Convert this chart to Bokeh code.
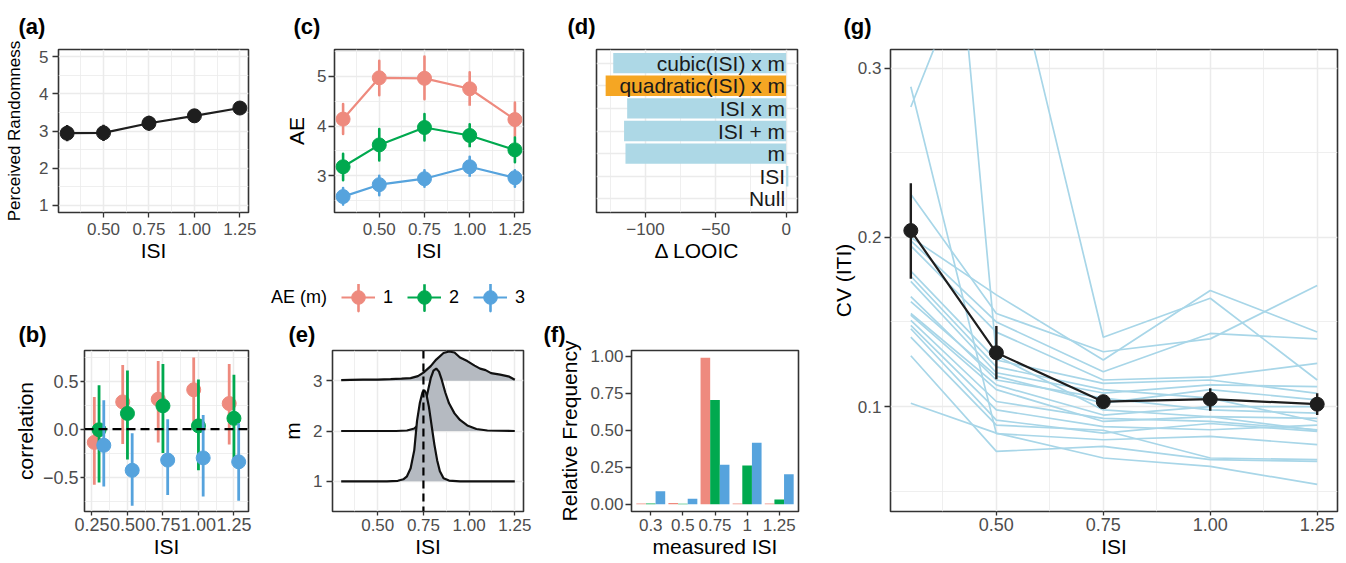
from bokeh.plotting import figure
from bokeh.models import (ColumnDataSource, FixedTicker, Range1d, FactorRange, Span,
                          Legend, LegendItem, NumeralTickFormatter, Spacer)
from bokeh.layouts import row, column
from bokeh.embed import file_html
from bokeh.resources import INLINE
from bokeh.transform import dodge
from bokeh.core.properties import value

FONT = "Liberation Sans"
M_LABELS = ["1", "2", "3"]
M_COLORS = ["#EE8A7E", "#00A94F", "#56A3DD"]

# ---------------- data ----------------
ISI = [0.3, 0.5, 0.75, 1.0, 1.25]
ISI_TICKS = [0.5, 0.75, 1.0, 1.25]
ISI_MINOR = [0.375, 0.625, 0.875, 1.125]

# (a) perceived randomness
rand_mean = [2.94, 2.95, 3.21, 3.41, 3.62]
rand_lo = [2.72, 2.73, 3.01, 3.23, 3.47]
rand_hi = [3.16, 3.17, 3.41, 3.59, 3.77]

# (c) AE by ISI for m = 1, 2, 3
ae_mean = [[4.14, 4.97, 4.96, 4.75, 4.13],
           [3.18, 3.62, 3.97, 3.81, 3.52],
           [2.58, 2.82, 2.94, 3.18, 2.96]]
ae_lo = [[3.84, 4.62, 4.54, 4.36, 3.79],
         [2.91, 3.31, 3.71, 3.54, 3.27],
         [2.42, 2.61, 2.78, 2.95, 2.78]]
ae_hi = [[4.44, 5.31, 5.40, 5.13, 4.47],
         [3.44, 3.94, 4.24, 4.07, 3.77],
         [2.75, 3.00, 3.11, 3.41, 3.11]]

# (b) correlation by ISI for m = 1, 2, 3
cor_mean = [[-0.137, 0.284, 0.312, 0.410, 0.267],
            [-0.006, 0.164, 0.243, 0.035, 0.113],
            [-0.167, -0.427, -0.321, -0.298, -0.339]]
cor_lo = [[-0.578, -0.154, -0.137, 0.080, -0.160],
          [-0.554, -0.314, -0.246, -0.427, -0.298],
          [-0.595, -0.794, -0.684, -0.698, -0.742]]
cor_hi = [[0.336, 0.667, 0.710, 0.746, 0.678],
          [0.456, 0.610, 0.678, 0.517, 0.565],
          [0.302, -0.041, 0.103, 0.148, 0.062]]
B_DODGE = 0.1

# (d) model comparison
models = ["Null", "ISI", "m", "ISI + m", "ISI x m", "quadratic(ISI) x m", "cubic(ISI) x m"]
d_looic = [0.0, 1.6, -114.2, -115.2, -113.0, -128.3, -122.9]
best_model = "quadratic(ISI) x m"

# (e) ridgeline densities (height in m units)
dens_x = [
    [0.30, 0.55, 0.61, 0.64, 0.66, 0.68, 0.70, 0.715, 0.73, 0.745, 0.755, 0.765,
     0.78, 0.795, 0.81, 0.825, 0.84, 0.86, 0.89, 0.95, 1.25],
    [0.30, 0.60, 0.66, 0.70, 0.73, 0.75, 0.77, 0.79, 0.805, 0.82, 0.835, 0.85,
     0.87, 0.89, 0.92, 0.95, 0.99, 1.04, 1.10, 1.25],
    [0.30, 0.35, 0.42, 0.50, 0.57, 0.63, 0.68, 0.72, 0.75, 0.79, 0.82, 0.86,
     0.89, 0.92, 0.95, 0.99, 1.03, 1.06, 1.09, 1.12, 1.17, 1.22, 1.25],
]
dens_h = [
    [0.0, 0.0, 0.01, 0.04, 0.10, 0.26, 0.62, 1.20, 1.55, 1.77, 1.81, 1.75,
     1.48, 1.10, 0.73, 0.42, 0.20, 0.06, 0.015, 0.0, 0.0],
    [0.0, 0.0, 0.01, 0.05, 0.15, 0.35, 0.72, 1.05, 1.20, 1.24, 1.18, 1.02,
     0.76, 0.55, 0.35, 0.22, 0.11, 0.04, 0.01, 0.0],
    [0.01, 0.015, 0.02, 0.02, 0.03, 0.04, 0.05, 0.09, 0.16, 0.29, 0.42, 0.55,
     0.58, 0.56, 0.46, 0.39, 0.30, 0.24, 0.21, 0.15, 0.12, 0.08, 0.02],
]
target_isi = 0.75

# (f) relative frequency of measured ISI
meas_cats = ["0.3", "0.5", "0.75", "1", "1.25"]
freq = [[0.004, 0.008, 0.990, 0.004, 0.004],
        [0.004, 0.003, 0.704, 0.261, 0.031],
        [0.088, 0.037, 0.266, 0.416, 0.203]]

# (g) CV of ITI per subject and mean
cv_subjects = [
    [0.686, 0.130, 0.098, 0.094, 0.086],
    [0.277, 0.404, 0.141, 0.164, 0.1157],
    [0.289, 0.084, 0.0804, 0.0824, 0.0775],
    [0.2255, 0.155, 0.1324, 0.140, 0.1716],
    [0.200, 0.166, 0.1275, 0.1686, 0.1441],
    [0.198, 0.150, 0.1206, 0.1432, 0.140],
    [0.195, 0.144, 0.1157, 0.1176, 0.1255],
    [0.180, 0.1275, 0.1137, 0.1157, 0.1078],
    [0.177, 0.1235, 0.110, 0.105, 0.0912],
    [0.174, 0.120, 0.108, 0.1128, 0.1118],
    [0.165, 0.1157, 0.105, 0.098, 0.0961],
    [0.162, 0.118, 0.102, 0.110, 0.104],
    [0.155, 0.1128, 0.095, 0.100, 0.100],
    [0.154, 0.110, 0.0912, 0.0941, 0.093],
    [0.151, 0.103, 0.093, 0.0912, 0.0863],
    [0.148, 0.098, 0.0882, 0.0863, 0.089],
    [0.146, 0.092, 0.0843, 0.090, 0.0853],
    [0.141, 0.089, 0.086, 0.0696, 0.0686],
    [0.130, 0.0735, 0.0765, 0.0686, 0.0676],
    [0.102, 0.0843, 0.0696, 0.0647, 0.054],
]
cv_mean = [0.204, 0.1318, 0.1029, 0.1044, 0.1014]
cv_lo = [0.1755, 0.1161, 0.0990, 0.0975, 0.0950]
cv_hi = [0.2320, 0.1476, 0.1068, 0.1108, 0.1079]


# ---------------- styling helpers ----------------
def base_fig(width, height, x_range, y_range, borders, tag, tag_offset, tag_standoff):
    l, r, t, b = borders
    p = figure(width=width, height=height, x_range=x_range, y_range=y_range,
               output_backend="svg", toolbar_location=None, tools="",
               min_border_left=l, min_border_right=r, min_border_top=t, min_border_bottom=b,
               title=tag)
    p.title.text_font = FONT
    p.title.text_font_size = "22px"
    p.title.text_font_style = "bold"
    p.title.text_color = "black"
    p.title.align = "left"
    p.title.offset = tag_offset
    p.title.standoff = tag_standoff
    p.outline_line_color = "#333333"
    p.outline_line_width = 1.6
    p.background_fill_color = "white"
    p.border_fill_color = "white"
    for ax in p.axis:
        ax.axis_line_color = None
        ax.major_tick_line_color = "#333333"
        ax.major_tick_line_width = 1.3
        ax.major_tick_in = 0
        ax.major_tick_out = 5
        ax.minor_tick_line_color = None
        ax.major_label_text_font = FONT
        ax.major_label_text_font_size = "17px"
        ax.major_label_text_color = "#4D4D4D"
        ax.axis_label_text_font = FONT
        ax.axis_label_text_font_size = "21px"
        ax.axis_label_text_font_style = "normal"
        ax.axis_label_text_color = "black"
    for g in p.grid:
        g.grid_line_color = "#EBEBEB"
        g.grid_line_width = 1.5
        g.minor_grid_line_color = "#EBEBEB"
        g.minor_grid_line_width = 0.8
    return p


def set_x(p, label, tick_out, label_standoff, axis_standoff, size=None):
    p.xaxis.axis_label = label
    p.xaxis.major_tick_out = tick_out
    p.xaxis.major_label_standoff = label_standoff
    p.xaxis.axis_label_standoff = axis_standoff
    if size:
        p.xaxis.major_label_text_font_size = size


def set_y(p, label, tick_out, label_standoff, axis_standoff, size="21px", tick_size=None):
    p.yaxis.axis_label = label
    p.yaxis.major_tick_out = tick_out
    p.yaxis.major_label_standoff = label_standoff
    p.yaxis.axis_label_standoff = axis_standoff
    p.yaxis.axis_label_text_font_size = size
    if tick_size:
        p.yaxis.major_label_text_font_size = tick_size


TOP_H, LEG_H, BOT_H = 272, 43, 248
TOP_B = (48, 60)
BOT_B = (33, 52)
TOP_TAG, BOT_TAG = 22, 8
BLACK = "#1E1E1E"

# ---------------- (a) ----------------
pa = base_fig(270, TOP_H, Range1d(0.2525, 1.2975), Range1d(0.8, 5.2),
              (58, 22) + TOP_B, "(a)", -40, TOP_TAG)
pa.xaxis.ticker = FixedTicker(ticks=ISI_TICKS, minor_ticks=ISI_MINOR)
pa.xaxis.formatter = NumeralTickFormatter(format="0.00")
pa.yaxis.ticker = FixedTicker(ticks=[1, 2, 3, 4, 5], minor_ticks=[1.5, 2.5, 3.5, 4.5])
set_x(pa, "ISI", 5, 5, 1)
set_y(pa, "Perceived Randomness", 6, 4, 12, size="17px")
src_a = ColumnDataSource(dict(isi=ISI, m=rand_mean, lo=rand_lo, hi=rand_hi))
pa.line("isi", "m", source=src_a, line_color=BLACK, line_width=2.2)
pa.segment(x0="isi", y0="lo", x1="isi", y1="hi", source=src_a, line_color=BLACK, line_width=2.6)
pa.scatter("isi", "m", source=src_a, size=14, color=BLACK)

# ---------------- (c) ----------------
pc = base_fig(278, TOP_H, Range1d(0.2525, 1.2975), Range1d(2.26, 5.54),
              (64, 25) + TOP_B, "(c)", -41, TOP_TAG)
pc.xaxis.ticker = FixedTicker(ticks=ISI_TICKS, minor_ticks=ISI_MINOR)
pc.xaxis.formatter = NumeralTickFormatter(format="0.00")
pc.yaxis.ticker = FixedTicker(ticks=[3, 4, 5], minor_ticks=[2.5, 3.5, 4.5, 5.5])
set_x(pc, "ISI", 5, 5, 1)
set_y(pc, "AE", 6, 2, 6)

# legend strip: its own small plot holding the same AE series (kept out of its view)
pleg = figure(width=330, height=LEG_H, x_range=Range1d(0, 1), y_range=Range1d(0, 1),
              output_backend="svg", toolbar_location=None, tools="",
              x_axis_location=None, y_axis_location=None,
              min_border_left=0, min_border_right=0, min_border_top=0, min_border_bottom=0)
pleg.outline_line_color = None
pleg.grid.visible = False
pleg.background_fill_color = "white"
pleg.border_fill_color = "white"

items = [LegendItem(label="AE (m)", renderers=[])]
for k in range(3):
    src = ColumnDataSource(dict(isi=ISI, m=ae_mean[k],
                                mid=[(a + b) / 2 for a, b in zip(ae_lo[k], ae_hi[k])],
                                span=[b - a for a, b in zip(ae_lo[k], ae_hi[k])]))
    rs = []
    for p in (pc, pleg):
        ln = p.line("isi", "m", source=src, line_color=M_COLORS[k], line_width=2.2)
        eb = p.ellipse(x="isi", y="mid", width=1e-5, height="span", source=src,
                       fill_color=None, line_color=M_COLORS[k], line_width=2.6)
        pt = p.scatter("isi", "m", source=src, size=14, color=M_COLORS[k])
        rs.append([ln, eb, pt])
    items.append(LegendItem(label=M_LABELS[k], renderers=rs[1], index=0))
legend = Legend(items=items, orientation="horizontal", location=(3, 1),
                glyph_width=34, glyph_height=34, label_standoff=8, spacing=14,
                label_width=8, padding=0, margin=0, border_line_color=None,
                background_fill_alpha=0, label_text_font=FONT, label_text_font_size="18px",
                label_text_color="black")
pleg.add_layout(legend, "center")

# ---------------- (d) ----------------
pd_ = base_fig(280, TOP_H, Range1d(-134.8, 8.1),
               FactorRange(factors=models, range_padding=0.1, range_padding_units="absolute"),
               (48, 31) + TOP_B, "(d)", -29, TOP_TAG)
pd_.xaxis.ticker = FixedTicker(ticks=[-100, -50, 0], minor_ticks=[-125, -75, -25])
pd_.xaxis.major_label_overrides = {-100: "\u2212100", -50: "\u221250", 0: "0"}
set_x(pd_, "\u0394 LOOIC", 5, 5, 1)
pd_.yaxis.major_label_text_color = None
pd_.yaxis.major_tick_line_color = None
src_d = ColumnDataSource(dict(model=models, v=d_looic,
                              color=["#F5A623" if m == best_model else "#ADD8E6" for m in models]))
pd_.hbar(y="model", left=0, right="v", height=0.9, source=src_d, fill_color="color", line_color=None)
pd_.text(x=0, y="model", text="model", source=src_d, text_align="right", text_baseline="middle",
         text_font=value(FONT), text_font_size="21px", text_color="#1A1A1A", x_offset=-1)

# ---------------- (b) ----------------
pb = base_fig(270, BOT_H, Range1d(0.1975, 1.3525), Range1d(-0.855, 0.818),
              (84, 22) + BOT_B, "(b)", -66, BOT_TAG)
pb.xaxis.ticker = FixedTicker(ticks=[0.25] + ISI_TICKS, minor_ticks=ISI_MINOR)
pb.xaxis.formatter = NumeralTickFormatter(format="0.00")
pb.yaxis.ticker = FixedTicker(ticks=[-0.5, 0, 0.5], minor_ticks=[-0.75, -0.25, 0.25, 0.75])
pb.yaxis.major_label_overrides = {-0.5: "\u22120.5", 0: "0.0", 0.5: "0.5"}
set_x(pb, "ISI", 4, 2, 1, size="18px")
set_y(pb, "correlation", 4, 2, 3, tick_size="18px")
pb.add_layout(Span(location=0, dimension="width", line_color="black", line_width=2.2,
                   line_dash="9 5"))
for k in range(3):
    src = ColumnDataSource(dict(isi=ISI, m=cor_mean[k], lo=cor_lo[k], hi=cor_hi[k]))
    off = (k - 1) * B_DODGE / 3
    xs = dodge("isi", off, range=pb.x_range)
    pb.segment(x0=xs, y0="lo", x1=xs, y1="hi", source=src, line_color=M_COLORS[k], line_width=2.8)
    pb.scatter(x=xs, y="m", source=src, size=14, color=M_COLORS[k])

# ---------------- (e) ----------------
pe = base_fig(270, BOT_H, Range1d(0.2525, 1.2975), Range1d(0.4, 3.6),
              (62, 17) + BOT_B, "(e)", -44, BOT_TAG)
pe.xaxis.ticker = FixedTicker(ticks=ISI_TICKS, minor_ticks=ISI_MINOR)
pe.xaxis.formatter = NumeralTickFormatter(format="0.00")
pe.yaxis.ticker = FixedTicker(ticks=[1, 2, 3], minor_ticks=[])
set_x(pe, "ISI", 4, 3, 1)
set_y(pe, "m", 6, 4, 6)
for k in [2, 1, 0]:
    base = int(M_LABELS[k])
    src = ColumnDataSource(dict(x=dens_x[k], base=[base] * len(dens_x[k]),
                                top=[base + h for h in dens_h[k]]))
    pe.varea(x="x", y1="base", y2="top", source=src, fill_color="#B5BAC1")
    pe.line("x", "top", source=src, line_color="#111111", line_width=2.2)
pe.add_layout(Span(location=target_isi, dimension="height", line_color="black",
                   line_width=2.2, line_dash="8 5"))

# ---------------- (f) ----------------
pf = base_fig(288, BOT_H, FactorRange(factors=meas_cats, range_padding=0.1, range_padding_units="absolute"),
              Range1d(-0.0495, 1.0395), (91, 30) + BOT_B, "(f)", -88, BOT_TAG)
pf.grid.visible = False
pf.yaxis.ticker = FixedTicker(ticks=[0, 0.25, 0.5, 0.75, 1.0], minor_ticks=[])
pf.yaxis.formatter = NumeralTickFormatter(format="0.00")
set_x(pf, "measured ISI", 4, 3, 1)
set_y(pf, "Relative Frequency", 6, 2, 6)
src_f = ColumnDataSource(dict(cat=meas_cats, f1=freq[0], f2=freq[1], f3=freq[2]))
for k, col in enumerate(["f1", "f2", "f3"]):
    pf.vbar(x=dodge("cat", (k - 1) * 0.3, range=pf.x_range), top=col, bottom=0, width=0.3,
            source=src_f, fill_color=M_COLORS[k], line_color=None)

# ---------------- (g) ----------------
pg = base_fig(518, TOP_H + LEG_H + BOT_H, Range1d(0.2525, 1.2975), Range1d(0.038, 0.311),
              (62, 9, 48, 52), "(g)", -47, TOP_TAG)
pg.xaxis.ticker = FixedTicker(ticks=ISI_TICKS, minor_ticks=ISI_MINOR)
pg.xaxis.formatter = NumeralTickFormatter(format="0.00")
pg.yaxis.ticker = FixedTicker(ticks=[0.1, 0.2, 0.3], minor_ticks=[0.05, 0.15, 0.25])
pg.yaxis.formatter = NumeralTickFormatter(format="0.0")
set_x(pg, "ISI", 4, 2, 1, size="18px")
set_y(pg, "CV (ITI)", 6, 3, 0)
src_sub = ColumnDataSource(dict(xs=[ISI] * len(cv_subjects), ys=cv_subjects))
pg.multi_line("xs", "ys", source=src_sub, line_color="#A8D6E8", line_width=1.7)
src_g = ColumnDataSource(dict(isi=ISI, m=cv_mean, lo=cv_lo, hi=cv_hi))
pg.line("isi", "m", source=src_g, line_color=BLACK, line_width=2.2)
pg.segment(x0="isi", y0="lo", x1="isi", y1="hi", source=src_g, line_color=BLACK, line_width=2.4)
pg.scatter("isi", "m", source=src_g, size=14, color=BLACK)

left = column(row(pa, pc, pd_),
              row(Spacer(width=226, height=LEG_H), pleg),
              row(pb, pe, pf))
layout = row(left, pg)
open("out.html", "w").write(file_html(layout, INLINE))
